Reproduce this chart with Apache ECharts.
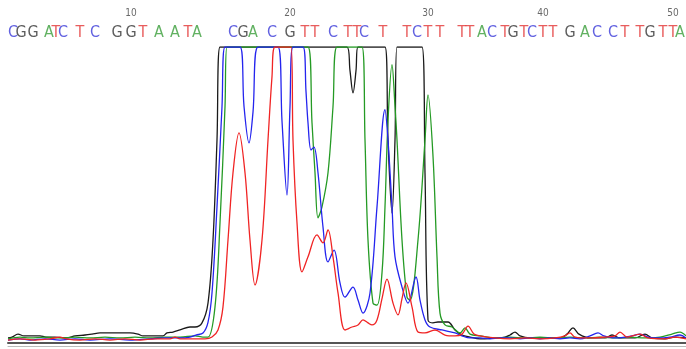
<!DOCTYPE html>
<html>
<head>
<meta charset="utf-8">
<style>
  html, body { margin: 0; padding: 0; background: #fff; }
  #trace { width: 686px; height: 349px; }
</style>
<script src="https://cdn.jsdelivr.net/npm/echarts@6/dist/echarts.min.js"></script>
</head>
<body>
<div id="trace"></div>
<script>
// base calls and where they sit on the scan axis
var bases = 'CGGATCTCGGTAATACGACGTTCTTCTTCTTTTACTGTCTTGACCTTGTTA'.split('');
var basePos = [13, 21, 33, 49, 56, 63, 80, 95, 117, 131, 143, 159, 175, 188, 197,
    233, 243, 253, 272, 290, 305, 315, 333, 348, 357, 364, 383, 407, 417, 428,
    440, 462, 470, 482, 492, 505, 513, 524, 532, 543, 553, 570, 585, 597, 613,
    625, 640, 650, 663, 673, 680];

// trace signals [scan, intensity], 1000 = saturated
var traceG = [[8,17],[12,20],[18,30],[24,24],[32,24],[40,24],[46,20],[55,20],[67,17],[75,24],[85,27],[92,30],[100,34],[115,34],[130,34],[138,30],[143,24],[155,24],[163,24],[167,34],[173,37],[180,44],[190,54],[195,54],[202,68],[208,135],[213,348],[217,686],[220,1000],[347,1000],[350,920],[353,845],[356,920],[358,1000],[385,1000],[388,686],[392,439],[395,686],[397,1000],[422,1000],[425,575],[428,78],[433,68],[438,71],[448,71],[455,44],[462,27],[470,20],[480,14],[495,17],[505,20],[510,27],[515,37],[520,24],[530,17],[545,17],[560,17],[567,30],[573,51],[579,30],[590,17],[605,17],[612,27],[620,17],[635,17],[645,30],[652,17],[665,14],[675,20],[686,17]];

var traceC = [[8,10],[20,14],[30,10],[45,14],[60,10],[75,14],[90,10],[110,14],[130,10],[150,14],[165,17],[180,17],[190,20],[196,27],[203,34],[208,70],[212,169],[217,460],[222,798],[225,1000],[240,1000],[244,800],[249,676],[253,780],[258,1000],[278,1000],[282,750],[287,500],[290,798],[293,1000],[303,1000],[306,850],[308,744],[311,652],[314,662],[318,575],[323,392],[328,274],[334,314],[340,203],[345,155],[353,189],[358,145],[363,101],[370,169],[377,460],[385,788],[388,686],[392,460],[395,291],[402,189],[408,135],[416,223],[420,145],[425,78],[430,54],[442,44],[455,34],[462,24],[470,17],[480,17],[490,14],[500,17],[510,17],[520,14],[530,17],[540,14],[550,17],[560,14],[570,17],[580,14],[590,24],[598,34],[604,24],[615,17],[625,20],[632,24],[640,30],[648,20],[658,17],[670,20],[680,27],[686,17]];

var traceA = [[8,14],[20,20],[30,17],[45,20],[60,17],[75,20],[90,17],[105,20],[120,17],[135,20],[150,17],[165,20],[180,20],[195,24],[203,20],[208,20],[215,122],[220,406],[225,798],[227,1000],[308,1000],[312,744],[315,575],[318,423],[322,460],[328,575],[333,798],[337,1000],[362,1000],[365,686],[368,348],[373,135],[377,128],[382,237],[385,460],[388,750],[392,940],[395,800],[397,686],[402,348],[407,155],[410,145],[418,348],[425,686],[428,838],[433,631],[437,291],[440,101],[445,61],[452,54],[460,34],[465,51],[470,30],[480,24],[495,17],[510,20],[525,17],[540,20],[555,17],[570,20],[585,17],[600,20],[615,17],[630,20],[645,17],[660,20],[672,30],[680,37],[686,24]];

var traceT = [[8,10],[20,14],[35,10],[50,14],[60,20],[66,14],[80,10],[95,14],[110,10],[125,14],[140,10],[155,14],[170,14],[175,20],[180,14],[195,14],[205,14],[212,20],[218,44],[223,122],[228,348],[233,575],[239,710],[245,575],[250,348],[255,196],[262,348],[268,686],[272,900],[275,1000],[291,1000],[293,686],[297,406],[302,240],[308,291],[317,365],[323,338],[328,382],[333,291],[338,169],[345,44],[352,54],[358,61],[363,78],[368,68],[372,61],[377,78],[382,150],[387,216],[393,135],[398,95],[402,150],[406,203],[412,122],[418,37],[425,34],[435,44],[445,27],[455,24],[462,30],[468,57],[474,30],[480,24],[495,17],[510,14],[525,17],[540,14],[555,17],[565,24],[570,34],[575,20],[590,17],[605,20],[615,24],[620,37],[627,20],[640,30],[648,17],[665,14],[675,20],[686,14]];

var baseColor = { A: '#3a9e3a', C: '#3a3ad8', G: '#333333', T: '#e23434' };

var chart = echarts.init(document.getElementById('trace'));

function traceSeries(name, data, color) {
    return {
        name: name,
        type: 'line',
        data: data,
        symbol: 'none',
        smooth: 0.35,
        lineStyle: { color: color, width: 1.3 },
        xAxisIndex: 0,
        yAxisIndex: 0
    };
}

var baseData = bases.map(function (b, i) {
    return { value: [basePos[i], 0], name: b, label: { color: baseColor[b] } };
});
var numData = [];
for (var i = 9; i < bases.length; i += 10) {
    numData.push({ value: [basePos[i], 1], name: String(i + 1) });
}

var option = {
    animation: false,
    grid: [
        { left: 8, right: 0, top: 47, bottom: 6 },
        { left: 8, right: 0, top: 13, height: 20 }
    ],
    xAxis: [
        { type: 'value', gridIndex: 0, min: 8, max: 686, show: true,
          axisLine: { show: true, lineStyle: { color: '#555', width: 2 } },
          axisTick: { show: false }, axisLabel: { show: false }, splitLine: { show: false } },
        { type: 'value', gridIndex: 1, min: 8, max: 686, show: false },
        { type: 'value', gridIndex: 0, min: 8, max: 686, position: 'bottom', offset: 3,
          axisLine: { show: true, lineStyle: { color: '#bbb', width: 1 } },
          axisTick: { show: false }, axisLabel: { show: false }, splitLine: { show: false } }
    ],
    yAxis: [
        { type: 'value', gridIndex: 0, min: 0, max: 1000, show: false },
        { type: 'value', gridIndex: 1, min: 0, max: 1, show: false }
    ],
    series: [
        traceSeries('G', traceG, '#1a1a1a'),
        traceSeries('A', traceA, '#249a24'),
        traceSeries('C', traceC, '#2424ee'),
        traceSeries('T', traceT, '#f02424'),
        {
            type: 'scatter', xAxisIndex: 1, yAxisIndex: 1, symbolSize: 0, silent: true,
            data: baseData,
            label: { show: true, position: 'inside', formatter: '{b}',
                     fontFamily: "'Liberation Sans Narrow', 'DejaVu Sans Condensed', sans-serif",
                     fontSize: 16 }
        },
        {
            type: 'scatter', xAxisIndex: 1, yAxisIndex: 1, symbolSize: 0, silent: true,
            data: numData,
            label: { show: true, position: 'inside', formatter: '{b}', color: '#444',
                     fontFamily: "'Liberation Sans Narrow', 'DejaVu Sans Condensed', sans-serif",
                     fontSize: 10 }
        }
    ]
};
chart.setOption(option);
</script>
</body>
</html>
